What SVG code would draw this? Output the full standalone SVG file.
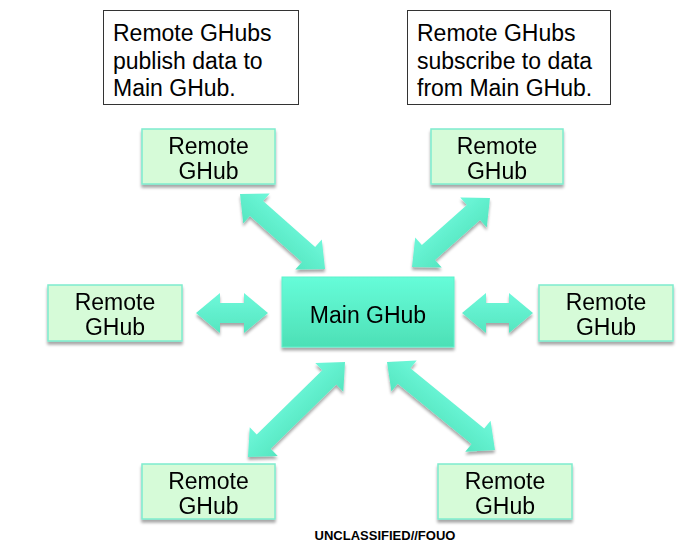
<svg xmlns="http://www.w3.org/2000/svg" width="694" height="553" viewBox="0 0 694 553">
<defs>
<linearGradient id="gMain" x1="0" y1="0" x2="0" y2="1">
<stop offset="0" stop-color="#66fcd9"/>
<stop offset="1" stop-color="#4de0b6"/>
</linearGradient>
<linearGradient id="gArr" x1="0" y1="0" x2="0" y2="1">
<stop offset="0" stop-color="#6ef8da"/>
<stop offset="1" stop-color="#55e6c0"/>
</linearGradient>
<filter id="sh" x="-10%" y="-10%" width="130%" height="140%">
<feGaussianBlur in="SourceAlpha" stdDeviation="1.5"/>
<feOffset dx="0" dy="2.5" result="b"/>
<feComponentTransfer><feFuncA type="linear" slope="0.35"/></feComponentTransfer>
<feMerge><feMergeNode/><feMergeNode in="SourceGraphic"/></feMerge>
</filter>
</defs>
<style>
.note{fill:#fff;stroke:#333;stroke-width:1}
.nt{font-family:"Liberation Sans",Arial,sans-serif;font-size:23px;fill:#000}
.rem{fill:#d6fbd8;stroke:#7eecce;stroke-width:1.5}
.rt{font-family:"Liberation Sans",Arial,sans-serif;font-size:23px;fill:#000;text-anchor:middle}
.arr{fill:url(#gArr)}
</style>
<rect width="694" height="553" fill="#fff"/>

<g id="note-publish">
<rect class="note" x="103.5" y="10.5" width="195" height="94"/>
<text class="nt" x="113" y="41">Remote GHubs</text>
<text class="nt" x="113" y="68.5">publish data to</text>
<text class="nt" x="113" y="96">Main GHub.</text>
</g>
<g id="note-subscribe">
<rect class="note" x="407.5" y="10.5" width="203" height="94"/>
<text class="nt" x="417" y="41">Remote GHubs</text>
<text class="nt" x="417" y="68.5">subscribe to data</text>
<text class="nt" x="417" y="96">from Main GHub.</text>
</g>

<g id="connectors" filter="url(#sh)">
<path class="arr" transform="translate(240,194) rotate(41.42)" d="M0,0 L22,-20 L22,-10 L91.4,-10 L91.4,-20 L113.4,0 L91.4,20 L91.4,10 L22,10 L22,20 Z"/>
<path class="arr" transform="translate(412,267) rotate(-41.5)" d="M0,0 L22,-20 L22,-10 L82.1,-10 L82.1,-20 L104.1,0 L82.1,20 L82.1,10 L22,10 L22,20 Z"/>
<path class="arr" transform="translate(248,457) rotate(-44.4)" d="M0,0 L22,-20 L22,-10 L113.8,-10 L113.8,-20 L135.8,0 L113.8,20 L113.8,10 L22,10 L22,20 Z"/>
<path class="arr" transform="translate(387,362) rotate(39.2)" d="M0,0 L22,-20 L22,-10 L117.3,-10 L117.3,-20 L139.3,0 L117.3,20 L117.3,10 L22,10 L22,20 Z"/>
<path class="arr" transform="translate(196,313)" d="M0,0 L24,-20 L24,-10 L48,-10 L48,-20 L72,0 L48,20 L48,10 L24,10 L24,20 Z"/>
<path class="arr" transform="translate(462,313)" d="M0,0 L24,-20 L24,-10 L47,-10 L47,-20 L71,0 L47,20 L47,10 L24,10 L24,20 Z"/>
</g>

<g id="main-ghub" filter="url(#sh)">
<rect x="282" y="277" width="172" height="70" fill="url(#gMain)" stroke="#5ef2cc" stroke-width="1"/>
<text class="rt" x="368" y="323">Main GHub</text>
</g>

<g id="remote-top-left" filter="url(#sh)">
<rect class="rem" x="142" y="129" width="133" height="55"/>
<text class="rt" x="208.5" y="154">Remote</text>
<text class="rt" x="208.5" y="179">GHub</text>
</g>
<g id="remote-top-right" filter="url(#sh)">
<rect class="rem" x="431" y="129" width="132" height="55"/>
<text class="rt" x="497" y="154">Remote</text>
<text class="rt" x="497" y="179">GHub</text>
</g>
<g id="remote-left" filter="url(#sh)">
<rect class="rem" x="48" y="285" width="134" height="56"/>
<text class="rt" x="115" y="310">Remote</text>
<text class="rt" x="115" y="335">GHub</text>
</g>
<g id="remote-right" filter="url(#sh)">
<rect class="rem" x="539" y="285" width="134" height="56"/>
<text class="rt" x="606" y="310">Remote</text>
<text class="rt" x="606" y="335">GHub</text>
</g>
<g id="remote-bottom-left" filter="url(#sh)">
<rect class="rem" x="142" y="464" width="133" height="55"/>
<text class="rt" x="208.5" y="489">Remote</text>
<text class="rt" x="208.5" y="514">GHub</text>
</g>
<g id="remote-bottom-right" filter="url(#sh)">
<rect class="rem" x="438" y="464" width="134" height="55"/>
<text class="rt" x="505" y="489">Remote</text>
<text class="rt" x="505" y="514">GHub</text>
</g>

<text x="385" y="540" font-family="'Liberation Sans',Arial,sans-serif" font-size="13" font-weight="bold" text-anchor="middle" fill="#000">UNCLASSIFIED//FOUO</text>
</svg>
